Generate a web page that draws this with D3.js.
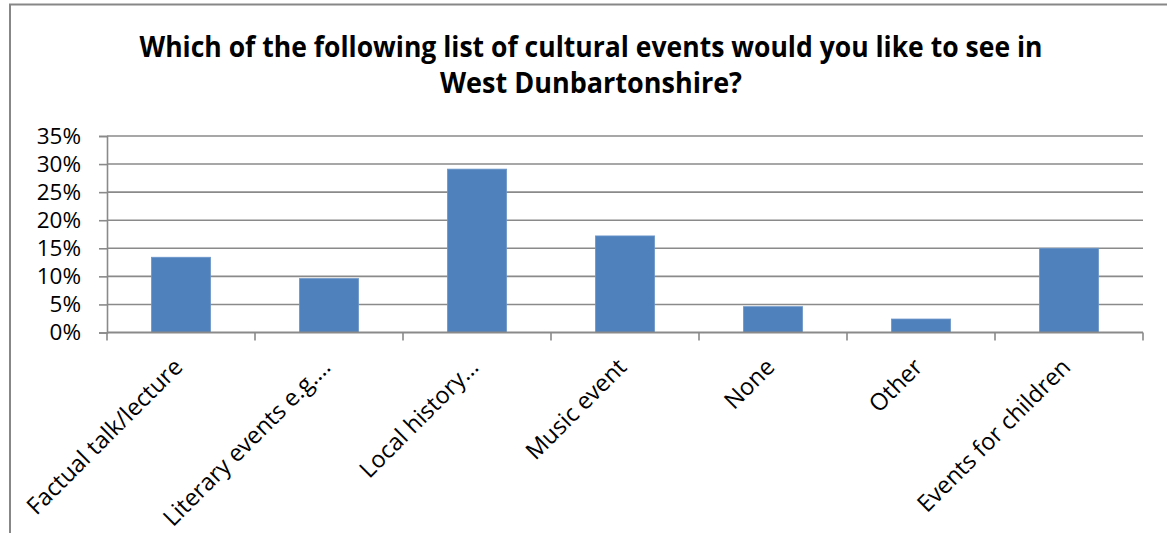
<!DOCTYPE html>
<html>
<head>
<meta charset="utf-8">
<script src="https://cdn.jsdelivr.net/npm/d3@7/dist/d3.min.js"></script>
<style>
  html, body { margin: 0; padding: 0; background: #fff; }
  svg { display: block; }
  text { font-family: "Open Sans", "DejaVu Sans", sans-serif; fill: #000; }
</style>
</head>
<body>
<svg id="chart" width="1167" height="533"></svg>
<script>
// Survey responses: share of respondents choosing each cultural event
const categories = [
  "Factual talk/lecture",
  "Literary events e.g.…",
  "Local history…",
  "Music event",
  "None",
  "Other",
  "Events for children"
];
const shares = [0.134, 0.096, 0.291, 0.172, 0.046, 0.024, 0.150];
const yTicks = [0, 0.05, 0.10, 0.15, 0.20, 0.25, 0.30, 0.35];
const titleLines = [
  "Which of the following list of cultural events would you like to see in",
  "West Dunbartonshire?"
];

const svg = d3.select("#chart");
const plot = { left: 107, right: 1143, top: 136, bottom: 332.5 };

// outer chart frame (runs past the right and bottom edges)
svg.append("rect")
  .attr("x", 10).attr("y", 4.5)
  .attr("width", 1300).attr("height", 700)
  .attr("fill", "#fff")
  .attr("stroke", "#878787").attr("stroke-width", 2);

// title, condensed to its set widths
const titleWidths = [903, 302];
svg.append("g").selectAll("text")
  .data(titleLines)
  .join("text")
  .attr("x", 591)
  .attr("y", (d, i) => 57 + i * 36)
  .attr("text-anchor", "middle")
  .attr("font-weight", "bold")
  .attr("font-size", 28.5)
  .attr("textLength", (d, i) => titleWidths[i])
  .attr("lengthAdjust", "spacingAndGlyphs")
  .text(d => d);

const x = d3.scaleBand()
  .domain(categories)
  .range([plot.left, plot.right])
  .paddingInner(0.6)
  .paddingOuter(0.3);

const y = d3.scaleLinear()
  .domain([0, 0.35])
  .range([plot.bottom, plot.top]);

// horizontal gridlines
svg.append("g").selectAll("line")
  .data(yTicks.filter(t => t > 0))
  .join("line")
  .attr("x1", plot.left).attr("x2", plot.right)
  .attr("y1", d => y(d)).attr("y2", d => y(d))
  .attr("stroke", "#8a8a8a").attr("stroke-width", 1.6);

// y axis
const yAxis = d3.axisLeft(y)
  .tickValues(yTicks)
  .tickFormat(d3.format(".0%"))
  .tickSize(8)
  .tickPadding(18);
const gy = svg.append("g")
  .attr("transform", `translate(${plot.left},0)`)
  .call(yAxis);
gy.select(".domain").attr("stroke", "#8a8a8a").attr("stroke-width", 1.6);
gy.selectAll(".tick line").attr("stroke", "#8a8a8a").attr("stroke-width", 1.6);
gy.selectAll(".tick text")
  .attr("font-size", 22.5)
  .attr("font-family", "\"Open Sans\", sans-serif")
  .attr("fill", "#000");

// bars
svg.append("g").selectAll("rect")
  .data(categories.map((c, i) => ({ c, v: shares[i] })))
  .join("rect")
  .attr("x", d => x(d.c))
  .attr("width", x.bandwidth())
  .attr("y", d => y(d.v))
  .attr("height", d => y(0) - y(d.v))
  .attr("fill", "#4f81bd")
  .attr("stroke", "#6d96c9").attr("stroke-width", 0.8);

// x axis with boundary ticks between categories
const step = x.step();
const boundaries = d3.range(categories.length + 1).map(i => plot.left + i * step);
svg.append("line")
  .attr("x1", plot.left).attr("x2", plot.right)
  .attr("y1", plot.bottom).attr("y2", plot.bottom)
  .attr("stroke", "#8a8a8a").attr("stroke-width", 1.8);
svg.append("g").selectAll("line")
  .data(boundaries)
  .join("line")
  .attr("x1", d => d).attr("x2", d => d)
  .attr("y1", plot.bottom).attr("y2", plot.bottom + 8)
  .attr("stroke", "#8a8a8a").attr("stroke-width", 1.6);

// rotated category labels
svg.append("g").selectAll("text")
  .data(categories)
  .join("text")
  .attr("transform", d => `translate(${x(d) + x.bandwidth() / 2 + 3},${plot.bottom + 36}) rotate(-45)`)
  .attr("text-anchor", "end")
  .attr("font-size", 23.5)
  .text(d => d);
</script>
</body>
</html>
